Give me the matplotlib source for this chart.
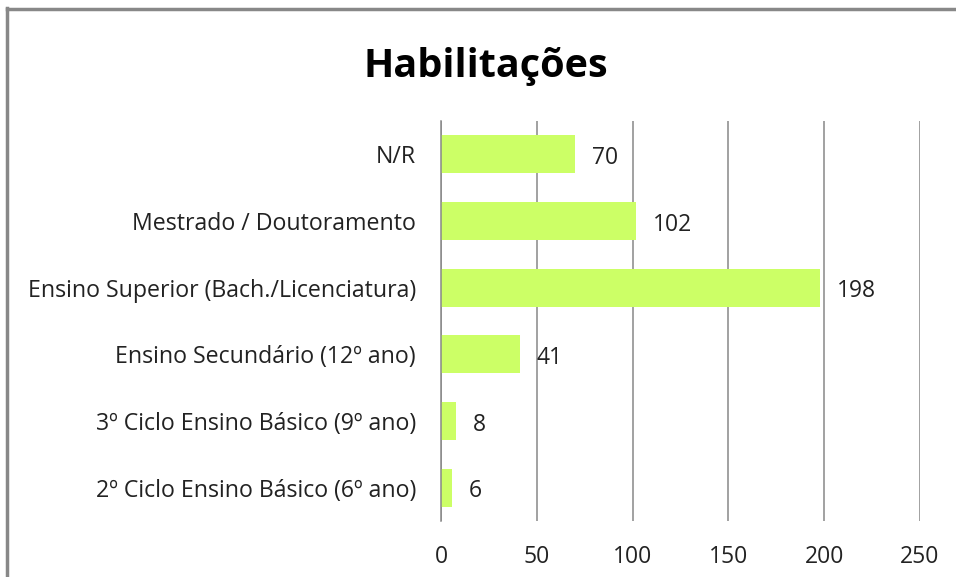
import matplotlib.pyplot as plt
from matplotlib.lines import Line2D

plt.rcParams['font.family'] = ['Open Sans', 'DejaVu Sans']

categories = [
    'N/R',
    'Mestrado / Doutoramento',
    'Ensino Superior (Bach./Licenciatura)',
    'Ensino Secundário (12º ano)',
    '3º Ciclo Ensino Básico (9º ano)',
    '2º Ciclo Ensino Básico (6º ano)',
]
values = [70, 102, 198, 41, 8, 6]
x_ticks = [0, 50, 100, 150, 200, 250]

fig = plt.figure(figsize=(9.56, 5.77), dpi=100)
ax = fig.add_axes([0.4613, 0.097, 0.501, 0.693])

pos = list(range(len(categories)))
ax.barh(pos, values, height=0.57, color='#ccff66', zorder=2)
for p, v in zip(pos, values):
    ax.annotate(str(v), (v, p), xytext=(12, -2.5), textcoords='offset points',
                va='center', ha='left', fontsize=16.5, color='#222222')

ax.set_ylim(len(categories) - 0.5, -0.5)
ax.set_xlim(0, 250)
ax.set_xticks(x_ticks)
ax.set_yticks(pos)
ax.set_yticklabels(categories, fontsize=16.7, color='#222222')
ax.tick_params(axis='y', length=0, pad=18)
ax.tick_params(axis='x', length=0, pad=17, labelsize=16.5, labelcolor='#222222')
ax.grid(axis='x', color='#888888', linewidth=1.1, zorder=0)
for s in ['top', 'right', 'bottom']:
    ax.spines[s].set_visible(False)
ax.spines['left'].set_color('#888888')
ax.spines['left'].set_linewidth(1.1)

fig.text(0.5085, 0.885, 'Habilitações', ha='center', va='center',
         fontsize=28.5, fontweight='bold', color='black')

# chart frame (bottom and right cut off in the original)
fig.add_artist(Line2D([0.0068, 0.0068], [0, 0.986], color='#888888', lw=2.5,
                      transform=fig.transFigure))
fig.add_artist(Line2D([0.0068, 1.0], [0.985, 0.985], color='#888888', lw=2.5,
                      transform=fig.transFigure))

fig.savefig('out.png', dpi=100)
